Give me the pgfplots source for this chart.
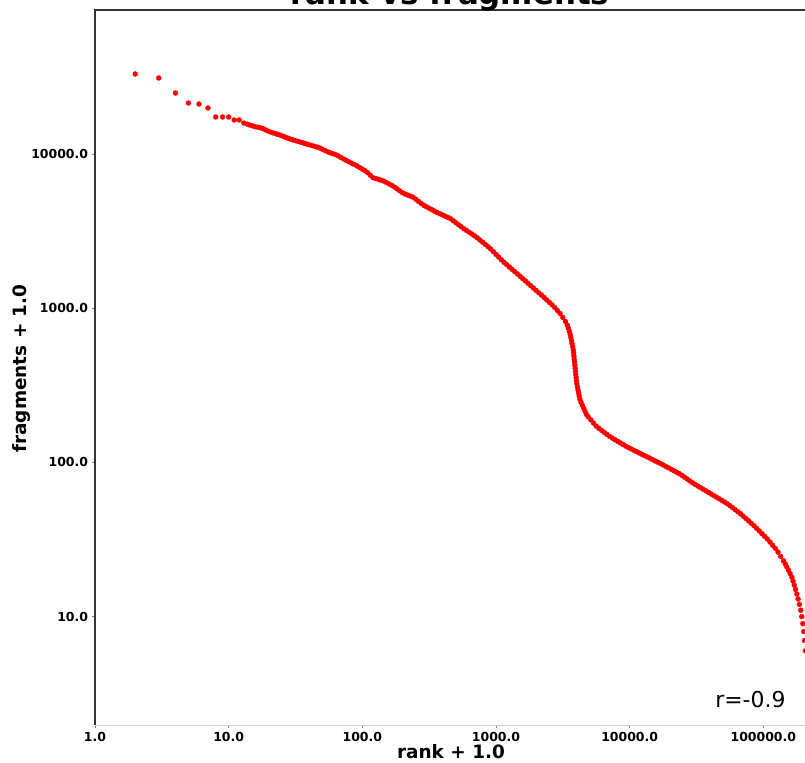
\documentclass[border=0pt]{standalone}
\usepackage{fontspec}
\setmainfont{DejaVu Sans}
\usepackage{pgfplots}
\pgfplotsset{compat=1.18}
\begin{document}
\begin{tikzpicture}
\path[use as bounding box] (-95bp,-38bp) rectangle (710bp,725bp);
\begin{axis}[
  at={(0,0)}, anchor=south west,
  scale only axis, width=710bp, height=715bp,
  xmode=log, ymode=log,
  xmin=1, xmax=205100, ymin=1.982, ymax=85900,
  axis line style={draw=none},
  xtick={1,10,100,1000,10000,100000},
  xticklabels={1.0,10.0,100.0,1000.0,10000.0,100000.0},
  ytick={10,100,1000,10000},
  yticklabels={10.0,100.0,1000.0,10000.0},
  xminorticks=false, yminorticks=false,
  tick pos=left, tick align=outside, major tick length=3.5bp,
  tick style={black!45, line width=0.8bp},
  tick label style={font=\bfseries\fontsize{12.5}{14}\selectfont, text=black},
  clip=false,
]
\addplot[only marks, mark=*, mark size=2.5bp, mark options={fill=red, draw=red, line width=0.3bp}] table {
x y
2 33030
3 31110
4 24870
5 21410
6 21100
7 19880
8 17380
9 17380
10 17380
11 16620
12 16620
13 15890
13.80 15610
14.45 15400
15.14 15210
15.85 15020
16.60 14900
17.38 14780
18.20 14560
19.05 14290
19.95 14020
20.89 13800
21.88 13640
22.91 13470
23.99 13310
25.12 13110
26.30 12900
27.54 12700
28.84 12500
30.20 12350
31.62 12200
33.11 12060
34.67 11920
36.31 11780
38.02 11640
39.81 11500
41.69 11360
43.65 11230
45.71 11090
47.86 10960
50.12 10760
52.48 10550
54.95 10340
57.54 10180
60.26 10050
63.10 9909
66.07 9721
69.18 9504
72.44 9290
75.86 9083
79.43 8899
83.18 8722
87.10 8549
91.20 8376
95.50 8177
100.0 7986
104.7 7796
109.6 7574
114.8 7290
120.2 7019
125.9 6936
131.8 6852
138.0 6770
144.5 6675
151.4 6535
158.5 6398
166.0 6264
173.8 6110
182.0 5939
190.5 5773
199.5 5611
208.9 5501
218.8 5414
229.1 5329
239.9 5244
251.2 5092
263.0 4938
275.4 4787
288.4 4651
302.0 4550
316.2 4453
331.1 4356
346.7 4263
363.1 4174
380.2 4100
398.1 4027
416.9 3955
436.5 3884
457.1 3806
478.6 3693
501.2 3585
524.8 3478
549.5 3375
575.4 3278
602.6 3191
631.0 3107
660.7 3025
691.8 2944
724.4 2863
758.6 2769
794.3 2680
831.8 2593
871.0 2509
912.0 2423
955.0 2328
1000 2236
1047 2148
1096 2064
1148 1985
1202 1917
1259 1852
1318 1789
1380 1728
1445 1670
1514 1612
1585 1556
1660 1503
1738 1450
1820 1401
1905 1352
1995 1305
2089 1260
2188 1217
2291 1174
2399 1131
2512 1090
2630 1051
2754 1009
2884 965.7
3020 923.9
3162 870.4
3311 820.2
3417 776.2
3478 741.3
3539 707.9
3593 676.1
3631 645.7
3670 616.6
3707 588.8
3747 562.3
3787 537.0
3808 512.9
3829 489.8
3850 467.7
3871 446.7
3891 426.6
3913 407.4
3934 389.0
3956 371.5
3976 354.8
3999 338.8
4024 323.6
4066 309.0
4109 295.1
4153 281.8
4196 269.2
4241 257.0
4327 245.5
4431 234.4
4538 223.9
4646 213.8
4758 204.2
4898 197.7
5129 188.6
5370 180.0
5623 171.8
5888 166.3
6166 161.3
6457 156.6
6761 152.0
7079 147.5
7413 143.8
7762 140.5
8128 137.1
8511 133.9
8913 130.7
9333 127.6
9772 124.9
10230 122.4
10720 120.0
11220 117.7
11750 115.3
12300 113.1
12880 110.8
13490 108.6
14130 106.6
14790 104.4
15490 102.3
16220 100.3
16980 98.38
17780 96.30
18620 94.26
19500 92.27
20420 90.31
21380 88.42
22390 86.54
23440 84.70
24550 82.57
25700 80.30
26920 78.09
28180 75.93
29510 73.84
30900 72.01
32360 70.31
33880 68.65
35480 67.02
37150 65.44
38900 63.89
40740 62.38
42660 60.92
44670 59.47
46770 58.08
48980 56.70
51290 55.36
53700 53.99
56230 52.40
58880 50.85
61660 49.34
64570 47.88
67610 46.41
70790 44.82
74130 43.26
77620 41.77
81280 40.33
85110 38.89
89130 37.38
93330 35.94
97720 34.54
102300 33.19
107200 31.85
112200 30.40
117500 29.01
123000 27.68
128800 26.20
134900 24.58
141500 23
145900 22
149900 21
154200 20
158800 19
163600 18
166900 17
170400 16
174300 15
178300 14
182100 13
186100 12
190500 11
193900 10
197600 9
200600 8
203300 7
206400 6
};
\end{axis}
\draw[black!20, line width=1bp] (0,0) -- (710bp,0);
\draw[black!80, line width=1.3bp] (0,0) -- (0,715bp) -- (710bp,715bp);
\node[anchor=base, font=\bfseries\fontsize{31}{36}\selectfont] at (355bp,720bp) {rank vs fragments};
\node[anchor=base, font=\bfseries\fontsize{18.5}{22}\selectfont] at (356bp,-33bp) {rank + 1.0};
\node[rotate=90, anchor=base, font=\bfseries\fontsize{18.5}{22}\selectfont] at (-68bp,356.5bp) {fragments + 1.0};
\node[anchor=base east, font=\fontsize{22}{26}\selectfont] at (694bp,18bp) {r=-0.9};
\end{tikzpicture}
\end{document}
